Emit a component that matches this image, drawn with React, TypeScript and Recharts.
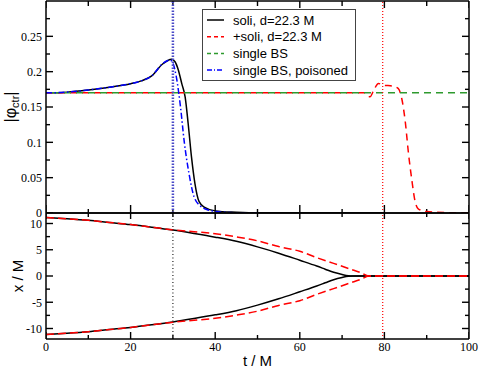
import React from 'react';
import { LineChart, Line, XAxis, YAxis, ReferenceLine } from 'recharts';

// ---------- data ----------
const seriesNames = ['soli, d=22.3 M', '+soli, d=22.3 M', 'single BS', 'single BS, poisoned'];

const tTicks = [0, 10, 20, 30, 40, 50, 60, 70, 80, 90, 100];
const tLabels = ['0', '', '20', '', '40', '', '60', '', '80', '', '100'];
const phiTicks = [0, 0.025, 0.05, 0.075, 0.1, 0.125, 0.15, 0.175, 0.2, 0.225, 0.25, 0.275];
const phiLabels = ['0', '', '0.05', '', '0.1', '', '0.15', '', '0.2', '', '0.25', ''];
const xTicks = [-10, -7.5, -5, -2.5, 0, 2.5, 5, 7.5, 10];
const xLabels = ['-10', '', '-5', '', '0', '', '5', '', '10'];

const tDomain: [number, number] = [0, 100];
const phiDomain: [number, number] = [0, 0.3];
const xDomain: [number, number] = [-12, 12];

const mergerTimeSoli = 30;
const mergerTimePlusSoli = 79.6;

// |phi_ctr| vs t
const soliPhi: [number, number][] = [
  [0, 0.170], [5, 0.171], [10, 0.174], [15, 0.178], [20, 0.183], [22.5, 0.187], [25, 0.194],
  [27.5, 0.2105], [29.7, 0.2177], [30.5, 0.214], [31.3, 0.202], [32.1, 0.183], [32.9, 0.164],
  [33.6, 0.127], [34.4, 0.079], [35.2, 0.042], [36.2, 0.016], [37.5, 0.008], [40, 0.003],
  [45, 0.001], [50, 0], [80, 0],
];
const plusSoliPhi: [number, number][] = [
  [0, 0.170], [75.2, 0.170], [76.6, 0.1645], [77.5, 0.174], [78.6, 0.1833], [79.7, 0.181],
  [82, 0.1795], [83.3, 0.176], [84.1, 0.162], [84.9, 0.131], [85.7, 0.084], [86.5, 0.046],
  [87.2, 0.018], [88, 0.006], [90, 0.002], [95, 0.0005], [100, 0],
];
const singlePhi: [number, number][] = [[0, 0.170], [100, 0.170]];
const poisonedPhi: [number, number][] = [
  [0, 0.170], [5, 0.171], [10, 0.174], [15, 0.178], [20, 0.183], [22.5, 0.187], [25, 0.194],
  [27.5, 0.211], [29.3, 0.2165], [30.0, 0.212], [30.8, 0.193], [31.8, 0.150], [32.7, 0.100],
  [33.8, 0.056], [35.0, 0.023], [36.5, 0.010], [38, 0.005], [42, 0.001], [50, 0],
];

// x vs t (upper star; lower star is its mirror)
const soliX: [number, number][] = [
  [0, 11.15], [5, 10.9], [10, 10.6], [15, 10.2], [20, 9.8], [25, 9.3], [30, 8.75], [35, 8.1],
  [40, 7.4], [45, 6.6], [50, 5.55], [55, 4.35], [60, 3.0], [64, 1.9], [66, 1.3], [68, 0.7],
  [70, 0.28], [71.5, 0.05], [72.5, 0], [100, 0],
];
const plusSoliX: [number, number][] = [
  [0, 11.15], [5, 10.9], [10, 10.6], [15, 10.2], [20, 9.8], [25, 9.3], [30, 8.8], [35, 8.45],
  [40, 8.05], [45, 7.45], [50, 6.7], [55, 5.6], [60, 4.7], [64, 3.5], [68, 2.4], [72, 1.3],
  [74.5, 0.6], [76.3, 0], [100, 0],
];

const toPts = (a: [number, number][], sign = 1) => a.map(([t, v]) => ({ t, v: sign * v }));

// ---------- layout / styles ----------
const W = 479;
const LEFT = 46;
const PLOT_W = 423;
const TOP_H = 212;
const BOT_H = 126;
const serif = '"Liberation Serif", "Times New Roman", serif';
const sans = '"Liberation Sans", Arial, sans-serif';
const TICK_W = 1.4;

const BLACK = '#000000';
const RED = '#ff0000';
const GREEN = '#2e9a2e';
const BLUE = '#0000ff';

const near = (a: number, b: number) => Math.abs(a - b) < 1e-6;
const labelOf = (ticks: number[], labels: string[], v: number) => {
  const i = ticks.findIndex((k) => near(k, v));
  return i >= 0 ? labels[i] : '';
};

// inward tick marks: short two-point series at every axis tick, lengths in
// pixels converted to data units through the panel's pixel size
const tickMarks = (
  yTicks: number[], yLabels: string[], yDom: [number, number], plotH: number,
  vb: [number, number], vm: [number, number],
) => {
  const pxT = (tDomain[1] - tDomain[0]) / PLOT_W;
  const pxY = (yDom[1] - yDom[0]) / plotH;
  const segs: { t: number; v: number }[][] = [];
  tTicks.forEach((t, i) => {
    const maj = !!tLabels[i];
    const lb = (maj ? vb[0] : vm[0]) * pxY;
    const lt = (maj ? vb[1] : vm[1]) * pxY;
    segs.push([{ t, v: yDom[0] }, { t, v: yDom[0] + lb }]);
    segs.push([{ t, v: yDom[1] }, { t, v: yDom[1] - lt }]);
  });
  yTicks.forEach((v, i) => {
    const len = (yLabels[i] ? 7 : 4) * pxT;
    segs.push([{ t: tDomain[0], v }, { t: tDomain[0] + len, v }]);
    segs.push([{ t: tDomain[1] - len, v }, { t: tDomain[1], v }]);
  });
  return segs.map((d, k) => (
    <Line key={`tick${k}`} xAxisId="b" yAxisId="l" data={d} dataKey="v" type="linear" dot={false}
      activeDot={false} legendType="none" stroke="#000" strokeWidth={TICK_W} isAnimationActive={false} />
  ));
};

const legendStyles = [
  { color: BLACK, dash: undefined as string | undefined },
  { color: RED, dash: '4 3' },
  { color: GREEN, dash: '4 3' },
  { color: BLUE, dash: '5 2 1 2' },
];

const tickFont = { fontFamily: serif, fontSize: 12, fill: '#000' };

const axisCommon = {
  stroke: '#000',
  strokeWidth: 1.5,
  allowDataOverflow: true,
  interval: 0 as const,
  tickLine: false,
  tickSize: 0,
};

export default function App() {
  return (
    <div style={{ position: 'absolute', left: 0, top: 0, width: W, height: 368, background: '#fff' }}>
      {/* top panel: plot area x 46..469, y 1..213 */}
      <div style={{ position: 'absolute', left: 0, top: 0 }}>
        <LineChart width={W} height={232} margin={{ top: 0, right: 9, left: 0, bottom: 18 }}>
          <XAxis xAxisId="b" dataKey="t" type="number" domain={tDomain} ticks={tTicks}
            orientation="bottom" height={1} {...axisCommon} tick={false} />
          <XAxis xAxisId="t" dataKey="t" type="number" domain={tDomain} ticks={tTicks}
            orientation="top" height={1} {...axisCommon} tick={false} />
          <YAxis yAxisId="l" type="number" domain={phiDomain} ticks={phiTicks}
            width={LEFT} {...axisCommon} tickMargin={4} tick={tickFont}
            tickFormatter={(v: number) => labelOf(phiTicks, phiLabels, v)} />
          <YAxis yAxisId="r" orientation="right" type="number" domain={phiDomain} ticks={phiTicks}
            width={1} {...axisCommon} tick={false} />
          {tickMarks(phiTicks, phiLabels, phiDomain, TOP_H, [8, 7], [4, 5])}
          <Line xAxisId="b" yAxisId="l" data={toPts(soliPhi)} dataKey="v" type="monotone" dot={false}
            stroke={BLACK} strokeWidth={1.5} isAnimationActive={false} />
          <Line xAxisId="b" yAxisId="l" data={toPts(plusSoliPhi)} dataKey="v" type="monotone" dot={false}
            stroke={RED} strokeWidth={1.5} strokeDasharray="7 5" isAnimationActive={false} />
          <Line xAxisId="b" yAxisId="l" data={toPts(singlePhi)} dataKey="v" type="linear" dot={false}
            stroke={GREEN} strokeWidth={1.5} strokeDasharray="7 5" strokeDashoffset={6} isAnimationActive={false} />
          <Line xAxisId="b" yAxisId="l" data={toPts(poisonedPhi)} dataKey="v" type="monotone" dot={false}
            stroke={BLUE} strokeWidth={1.5} strokeDasharray="6 2.5 1.5 2.5" isAnimationActive={false} />
          <ReferenceLine xAxisId="b" yAxisId="l" x={mergerTimeSoli} stroke="#4a4ac8" strokeWidth={2.5}
            strokeDasharray="1.5 1.5" />
          <ReferenceLine xAxisId="b" yAxisId="l" x={mergerTimePlusSoli} stroke={RED} strokeWidth={1.2}
            strokeDasharray="1 2" />
        </LineChart>
      </div>

      {/* bottom panel: plot area x 46..469, y 213..339 */}
      <div style={{ position: 'absolute', left: 0, top: 212 }}>
        <LineChart width={W} height={156} margin={{ top: 0, right: 9, left: 0, bottom: 0 }}>
          <XAxis xAxisId="b" dataKey="t" type="number" domain={tDomain} ticks={tTicks}
            orientation="bottom" height={29} {...axisCommon} tickMargin={3} tick={tickFont}
            tickFormatter={(v: number) => labelOf(tTicks, tLabels, v)} />
          <XAxis xAxisId="t" dataKey="t" type="number" domain={tDomain} ticks={tTicks}
            orientation="top" height={1} {...axisCommon} tick={false} />
          <YAxis yAxisId="l" type="number" domain={xDomain} ticks={xTicks}
            width={LEFT} {...axisCommon} tickMargin={4} tick={tickFont}
            tickFormatter={(v: number) => labelOf(xTicks, xLabels, v)} />
          <YAxis yAxisId="r" orientation="right" type="number" domain={xDomain} ticks={xTicks}
            width={1} {...axisCommon} tick={false} />
          {tickMarks(xTicks, xLabels, xDomain, BOT_H, [7, 6], [4, 4])}
          <Line xAxisId="b" yAxisId="l" data={toPts(soliX)} dataKey="v" type="monotone" dot={false}
            stroke={BLACK} strokeWidth={1.5} isAnimationActive={false} />
          <Line xAxisId="b" yAxisId="l" data={toPts(soliX, -1)} dataKey="v" type="monotone" dot={false}
            stroke={BLACK} strokeWidth={1.5} isAnimationActive={false} />
          <Line xAxisId="b" yAxisId="l" data={toPts(plusSoliX)} dataKey="v" type="monotone" dot={false}
            stroke={RED} strokeWidth={1.5} strokeDasharray="8 4" isAnimationActive={false} />
          <Line xAxisId="b" yAxisId="l" data={toPts(plusSoliX, -1)} dataKey="v" type="monotone" dot={false}
            stroke={RED} strokeWidth={1.5} strokeDasharray="8 4" isAnimationActive={false} />
          <ReferenceLine xAxisId="b" yAxisId="l" x={mergerTimeSoli} stroke="#222" strokeWidth={1.2}
            strokeDasharray="1 2.5" />
          <ReferenceLine xAxisId="b" yAxisId="l" x={mergerTimePlusSoli} stroke={RED} strokeWidth={1.2}
            strokeDasharray="1 2" />
        </LineChart>
      </div>

      {/* legend */}
      <div style={{ position: 'absolute', left: 202, top: 9, width: 154, height: 72, background: '#fff',
        border: '1px solid #444', boxSizing: 'border-box' }}>
        <svg width={154} height={72} style={{ display: 'block', position: 'absolute', left: -1, top: -1 }}>
          {seriesNames.map((name, i) => {
            const cy = 11 + i * 16.7;
            const s = legendStyles[i];
            return (
              <g key={name}>
                <line x1={5} x2={22} y1={cy} y2={cy} stroke={s.color} strokeWidth={1.5}
                  strokeDasharray={s.dash} />
                <text x={31} y={cy} dy={4.5} fontFamily={sans} fontSize={13} fill="#000">{name}</text>
              </g>
            );
          })}
        </svg>
      </div>

      {/* axis titles */}
      <svg width={W} height={368} style={{ position: 'absolute', left: 0, top: 0, pointerEvents: 'none' }}>
        <text transform="translate(16,107) rotate(-90)" textAnchor="middle" fontFamily={sans} fontSize={16} fill="#000">
          |φ<tspan fontSize={11} dy={3}>ctr</tspan><tspan dy={-3}>|</tspan>
        </text>
        <text transform="translate(23,276) rotate(-90)" textAnchor="middle" fontFamily={sans} fontSize={15} fill="#000">
          x / M
        </text>
        <text x={257.5} y={366} textAnchor="middle" fontFamily={sans} fontSize={15} fill="#000">
          t / M
        </text>
      </svg>
    </div>
  );
}
